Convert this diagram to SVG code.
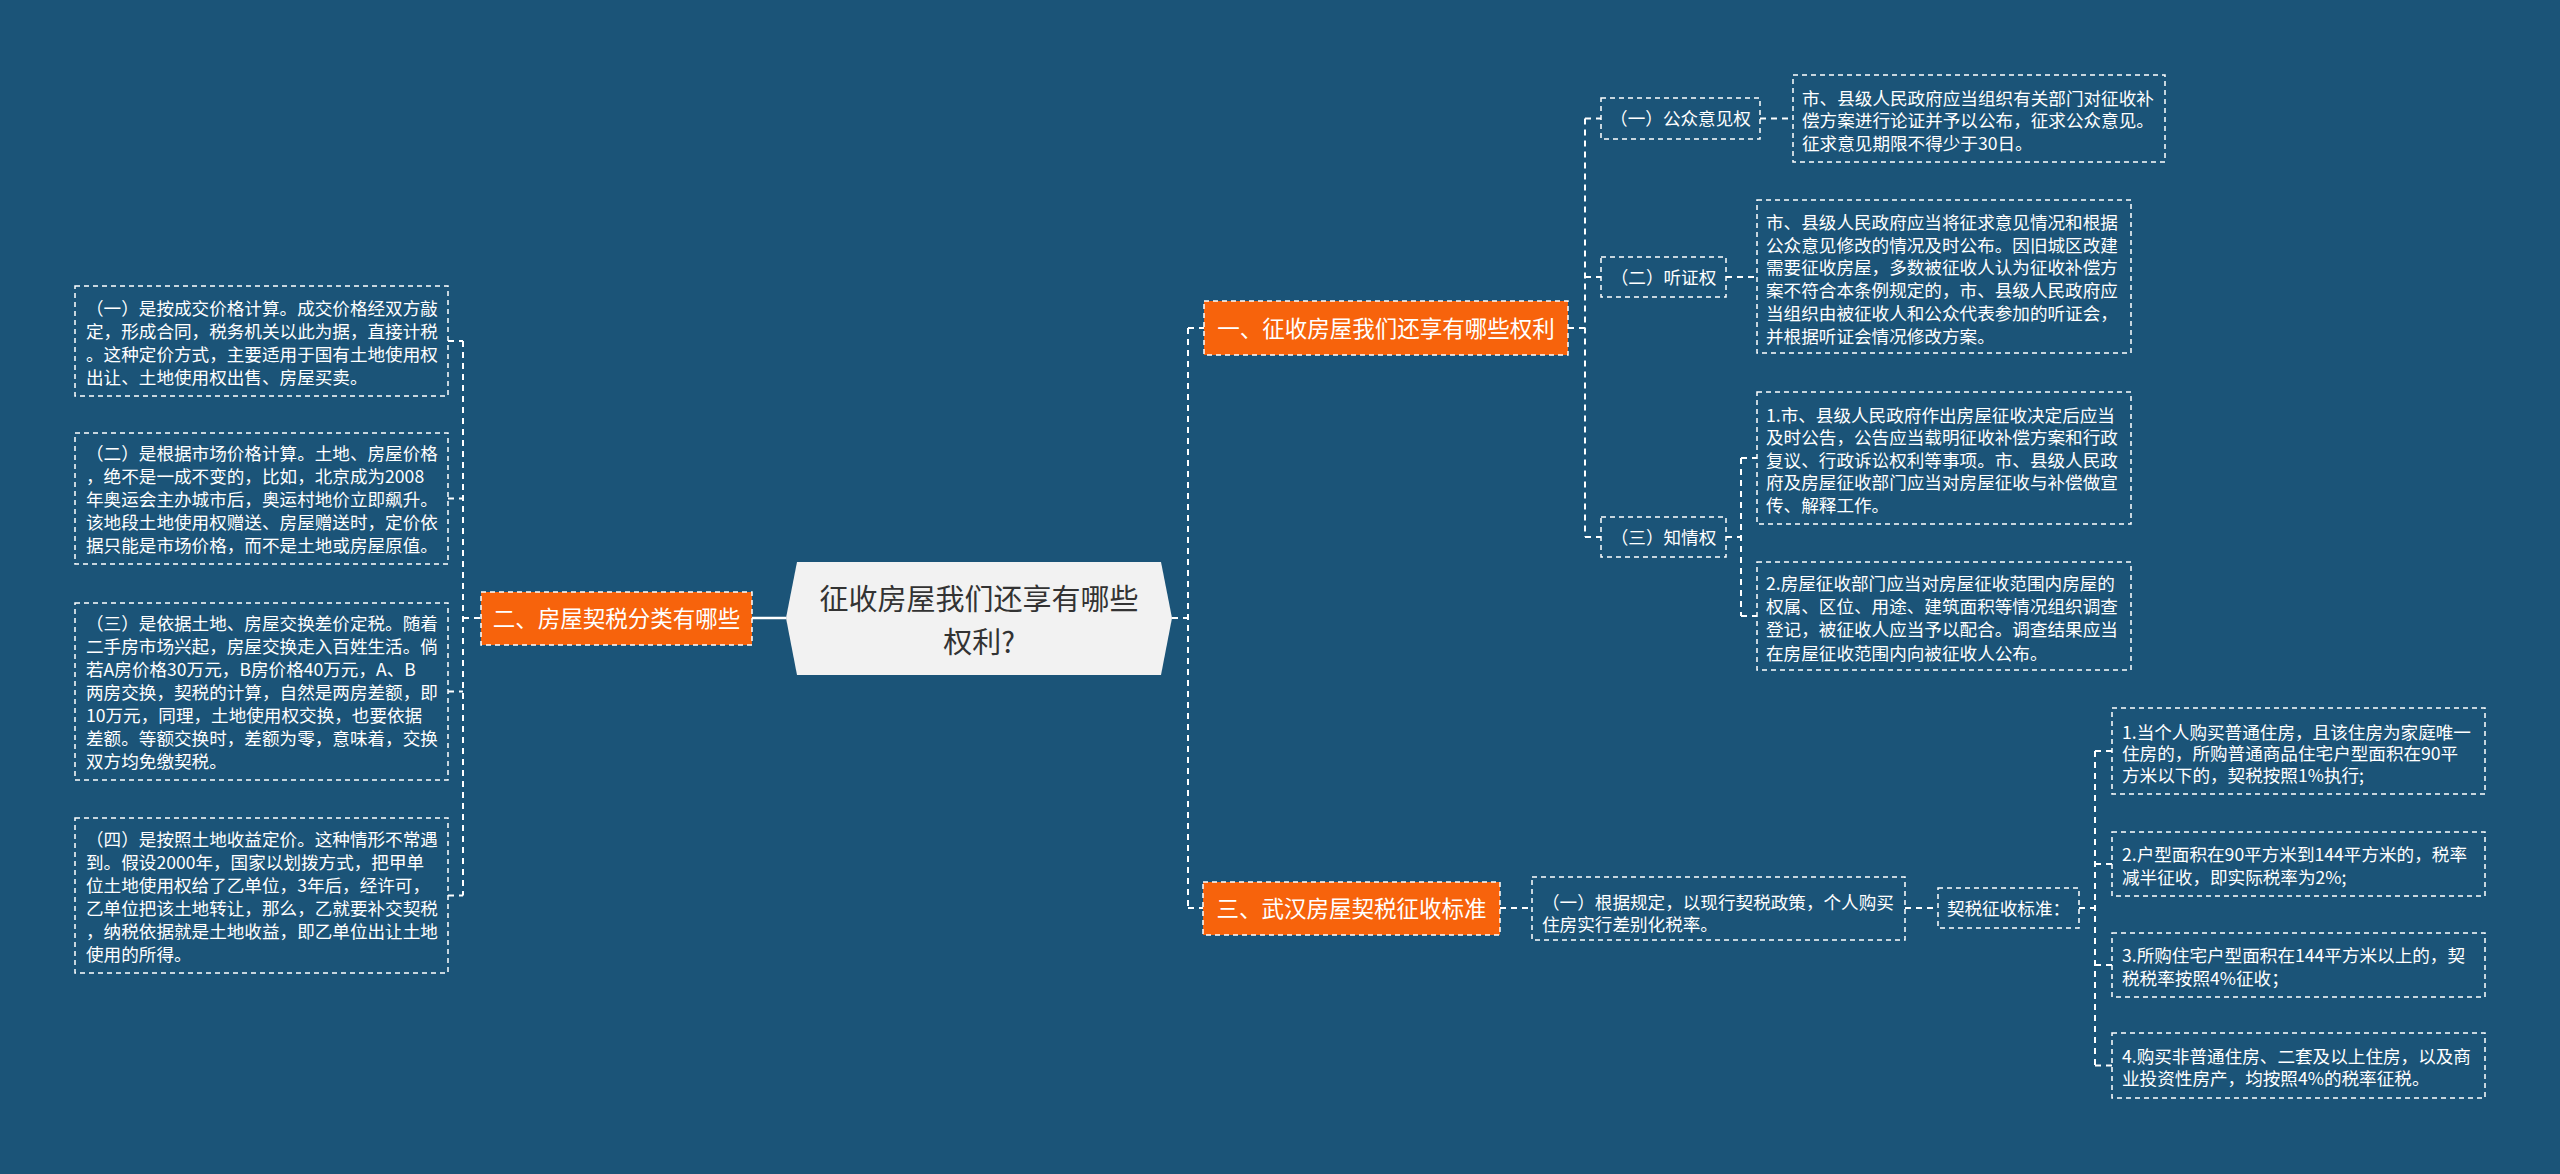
<svg xmlns="http://www.w3.org/2000/svg" width="2560" height="1174" viewBox="0 0 2560 1174">
<style>
.bg{fill:#1b5478}
.box{fill:none;stroke:#ffffff;stroke-width:1.5;stroke-dasharray:5 4}
.obox{fill:#f7630c;stroke:#ffffff;stroke-width:1.5;stroke-dasharray:5 4}
.con{fill:none;stroke:#ffffff;stroke-width:2;stroke-dasharray:6 5}
.t{font-family:"Noto Sans CJK SC","Microsoft YaHei",sans-serif;font-size:17.6px;fill:#ffffff}
.tm{font-family:"Noto Sans CJK SC","Microsoft YaHei",sans-serif;font-size:17.6px;fill:#ffffff;text-anchor:middle}
.to{font-family:"Noto Sans CJK SC","Microsoft YaHei",sans-serif;font-size:22.5px;fill:#ffffff;text-anchor:middle}
.tr{font-family:"Noto Sans CJK SC","Microsoft YaHei",sans-serif;font-size:29px;fill:#333333;text-anchor:middle}
</style>
<rect class="bg" x="0" y="0" width="2560" height="1174"/>

<g id="connectors">
  <path class="con" d="M448 341 H463 M448 498.5 H463 M448 691.5 H463 M448 895.5 H463 M463 341 V895.5 M463 618 H481"/>
  <path d="M752 618 H786" stroke="#ffffff" stroke-width="2.5" fill="none"/>
  <path class="con" d="M1172 618 H1188 M1188 328 V908 M1188 328 H1204 M1188 908 H1203"/>
  <path class="con" d="M1568 328 H1585 M1585 118.5 V537 M1585 118.5 H1601 M1585 277 H1601 M1585 537 H1601"/>
  <path class="con" d="M1760 118.5 H1793 M1726 277 H1757 M1726 537 H1741 M1741 458 V616 M1741 458 H1757 M1741 616 H1757"/>
  <path class="con" d="M1500 908 H1532 M1905 908 H1938 M2079 908 H2095 M2095 751 V1065.5 M2095 751 H2112 M2095 864 H2112 M2095 965 H2112 M2095 1065.5 H2112"/>
</g>

<g id="root">
  <polygon points="786,618 797,562 1161,562 1172,618 1161,675 797,675" fill="#f2f2f2"/>
  <text class="tr" x="979" y="609.5">征收房屋我们还享有哪些</text>
  <text class="tr" x="979" y="652.5">权利?</text>
</g>

<g id="node-2">
  <rect class="obox" x="481" y="592" width="271" height="53"/>
  <text class="to" x="616.5" y="626.5">二、房屋契税分类有哪些</text>
</g>

<g id="node-2-1">
  <rect class="box" x="75" y="286" width="373" height="110"/>
  <text class="t" x="86" y="314.5">（一）是按成交价格计算。成交价格经双方敲</text>
  <text class="t" x="86" y="337.5">定，形成合同，税务机关以此为据，直接计税</text>
  <text class="t" x="86" y="360.5">。这种定价方式，主要适用于国有土地使用权</text>
  <text class="t" x="86" y="383.5">出让、土地使用权出售、房屋买卖。</text>
</g>
<g id="node-2-2">
  <rect class="box" x="75" y="433" width="373" height="131"/>
  <text class="t" x="86" y="459.5">（二）是根据市场价格计算。土地、房屋价格</text>
  <text class="t" x="86" y="482.5">，绝不是一成不变的，比如，北京成为2008</text>
  <text class="t" x="86" y="505.5">年奥运会主办城市后，奥运村地价立即飙升。</text>
  <text class="t" x="86" y="528.5">该地段土地使用权赠送、房屋赠送时，定价依</text>
  <text class="t" x="86" y="551.5">据只能是市场价格，而不是土地或房屋原值。</text>
</g>
<g id="node-2-3">
  <rect class="box" x="75" y="603" width="373" height="177"/>
  <text class="t" x="86" y="629.5">（三）是依据土地、房屋交换差价定税。随着</text>
  <text class="t" x="86" y="652.5">二手房市场兴起，房屋交换走入百姓生活。倘</text>
  <text class="t" x="86" y="675.5">若A房价格30万元，B房价格40万元，A、B</text>
  <text class="t" x="86" y="698.5">两房交换，契税的计算，自然是两房差额，即</text>
  <text class="t" x="86" y="721.5">10万元，同理，土地使用权交换，也要依据</text>
  <text class="t" x="86" y="744.5">差额。等额交换时，差额为零，意味着，交换</text>
  <text class="t" x="86" y="767.5">双方均免缴契税。</text>
</g>
<g id="node-2-4">
  <rect class="box" x="75" y="818" width="373" height="155"/>
  <text class="t" x="86" y="845.5">（四）是按照土地收益定价。这种情形不常遇</text>
  <text class="t" x="86" y="868.5">到。假设2000年，国家以划拨方式，把甲单</text>
  <text class="t" x="86" y="891.5">位土地使用权给了乙单位，3年后，经许可，</text>
  <text class="t" x="86" y="914.5">乙单位把该土地转让，那么，乙就要补交契税</text>
  <text class="t" x="86" y="937.5">，纳税依据就是土地收益，即乙单位出让土地</text>
  <text class="t" x="86" y="960.5">使用的所得。</text>
</g>

<g id="node-1">
  <rect class="obox" x="1204" y="301" width="364" height="54"/>
  <text class="to" x="1386" y="336.5">一、征收房屋我们还享有哪些权利</text>
</g>
<g id="node-1-1">
  <rect class="box" x="1601" y="98" width="159" height="41"/>
  <text class="tm" x="1680.5" y="125">（一）公众意见权</text>
</g>
<g id="node-1-1-1">
  <rect class="box" x="1793" y="75" width="372" height="87"/>
  <text class="t" x="1802" y="104.5">市、县级人民政府应当组织有关部门对征收补</text>
  <text class="t" x="1802" y="127">偿方案进行论证并予以公布，征求公众意见。</text>
  <text class="t" x="1802" y="149.5">征求意见期限不得少于30日。</text>
</g>
<g id="node-1-2">
  <rect class="box" x="1601" y="257" width="125" height="40"/>
  <text class="tm" x="1663.5" y="283.5">（二）听证权</text>
</g>
<g id="node-1-2-1">
  <rect class="box" x="1757" y="200" width="374" height="153"/>
  <text class="t" x="1766" y="228.5">市、县级人民政府应当将征求意见情况和根据</text>
  <text class="t" x="1766" y="251.5">公众意见修改的情况及时公布。因旧城区改建</text>
  <text class="t" x="1766" y="274">需要征收房屋，多数被征收人认为征收补偿方</text>
  <text class="t" x="1766" y="297">案不符合本条例规定的，市、县级人民政府应</text>
  <text class="t" x="1766" y="320">当组织由被征收人和公众代表参加的听证会，</text>
  <text class="t" x="1766" y="343">并根据听证会情况修改方案。</text>
</g>
<g id="node-1-3">
  <rect class="box" x="1601" y="517" width="125" height="40"/>
  <text class="tm" x="1663.5" y="543.5">（三）知情权</text>
</g>
<g id="node-1-3-1">
  <rect class="box" x="1757" y="392" width="374" height="132"/>
  <text class="t" x="1766" y="421.5">1.市、县级人民政府作出房屋征收决定后应当</text>
  <text class="t" x="1766" y="444">及时公告，公告应当载明征收补偿方案和行政</text>
  <text class="t" x="1766" y="466.5">复议、行政诉讼权利等事项。市、县级人民政</text>
  <text class="t" x="1766" y="489">府及房屋征收部门应当对房屋征收与补偿做宣</text>
  <text class="t" x="1766" y="511.5">传、解释工作。</text>
</g>
<g id="node-1-3-2">
  <rect class="box" x="1757" y="562" width="374" height="108"/>
  <text class="t" x="1766" y="589.5">2.房屋征收部门应当对房屋征收范围内房屋的</text>
  <text class="t" x="1766" y="613">权属、区位、用途、建筑面积等情况组织调查</text>
  <text class="t" x="1766" y="636">登记，被征收人应当予以配合。调查结果应当</text>
  <text class="t" x="1766" y="659.5">在房屋征收范围内向被征收人公布。</text>
</g>

<g id="node-3">
  <rect class="obox" x="1203" y="882" width="297" height="53"/>
  <text class="to" x="1351.5" y="916.5">三、武汉房屋契税征收标准</text>
</g>
<g id="node-3-1">
  <rect class="box" x="1532" y="877" width="373" height="63"/>
  <text class="t" x="1542" y="908.5">（一）根据规定，以现行契税政策，个人购买</text>
  <text class="t" x="1542" y="930.5">住房实行差别化税率。</text>
</g>
<g id="node-3-1-1">
  <rect class="box" x="1938" y="888" width="141" height="40"/>
  <text class="tm" x="2008.5" y="914.5">契税征收标准：</text>
</g>
<g id="node-3-1-1-1">
  <rect class="box" x="2112" y="708" width="373" height="86"/>
  <text class="t" x="2122" y="738.5">1.当个人购买普通住房，且该住房为家庭唯一</text>
  <text class="t" x="2122" y="760">住房的，所购普通商品住宅户型面积在90平</text>
  <text class="t" x="2122" y="781.5">方米以下的，契税按照1%执行;</text>
</g>
<g id="node-3-1-1-2">
  <rect class="box" x="2112" y="832" width="373" height="64"/>
  <text class="t" x="2122" y="860.5">2.户型面积在90平方米到144平方米的，税率</text>
  <text class="t" x="2122" y="883.5">减半征收，即实际税率为2%;</text>
</g>
<g id="node-3-1-1-3">
  <rect class="box" x="2112" y="933" width="373" height="64"/>
  <text class="t" x="2122" y="961.5">3.所购住宅户型面积在144平方米以上的，契</text>
  <text class="t" x="2122" y="984.5">税税率按照4%征收；</text>
</g>
<g id="node-3-1-1-4">
  <rect class="box" x="2112" y="1033" width="373" height="65"/>
  <text class="t" x="2122" y="1062.5">4.购买非普通住房、二套及以上住房，以及商</text>
  <text class="t" x="2122" y="1084.5">业投资性房产，均按照4%的税率征税。</text>
</g>
</svg>
